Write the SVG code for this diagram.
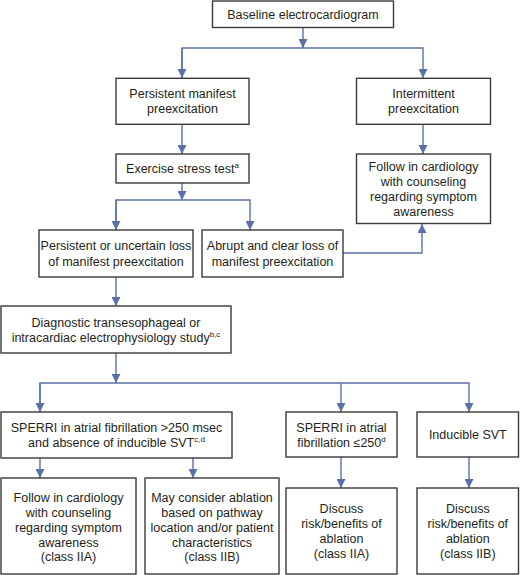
<svg xmlns="http://www.w3.org/2000/svg" width="523" height="575" viewBox="0 0 523 575">
<defs>
<style>
.box{fill:#fff;stroke:#3a3a3a;stroke-width:1.4}
.t{font-family:"Liberation Sans",Arial,sans-serif;font-size:12.5px;fill:#231f20;text-anchor:middle}
.sup{font-size:8px}
.c{fill:none;stroke:#5b70a8;stroke-width:1.4}
</style>
<marker id="ah" markerUnits="userSpaceOnUse" markerWidth="10" markerHeight="9" refX="9" refY="4.5" orient="auto">
<path d="M0,0 L9,4.5 L0,9 z" fill="#5b70a8"/>
</marker>
</defs>
<rect width="523" height="575" fill="#fff"/>
<g id="connectors">
<path class="c" d="M303,27.5 V48" marker-end="url(#ah)"/>
<path class="c" d="M182,78 V48 H423 V78" marker-end="url(#ah)"/>
<path class="c" d="M182,48 V78" marker-end="url(#ah)"/>
<path class="c" d="M182,124.3 V154" marker-end="url(#ah)"/>
<path class="c" d="M423,124.3 V154" marker-end="url(#ah)"/>
<path class="c" d="M182,183 V200" marker-end="url(#ah)"/>
<path class="c" d="M116,230 V200 H250 V230" marker-end="url(#ah)"/>
<path class="c" d="M116,200 V230" marker-end="url(#ah)"/>
<path class="c" d="M343,253 H422 V224" marker-end="url(#ah)"/>
<path class="c" d="M116,277 V306" marker-end="url(#ah)"/>
<path class="c" d="M116,353 V383" marker-end="url(#ah)"/>
<path class="c" d="M40,412 V383 H469 V412" marker-end="url(#ah)"/>
<path class="c" d="M40,383 V412" marker-end="url(#ah)"/>
<path class="c" d="M341,383 V412" marker-end="url(#ah)"/>
<path class="c" d="M40,458 V478" marker-end="url(#ah)"/>
<path class="c" d="M193,458 V478" marker-end="url(#ah)"/>
<path class="c" d="M341,457 V488" marker-end="url(#ah)"/>
<path class="c" d="M469,457 V488" marker-end="url(#ah)"/>
</g>
<g id="n-baseline">
<rect class="box" x="212.5" y="1" width="181" height="26.5"/>
<text class="t" x="303" y="18.5">Baseline electrocardiogram</text>
</g>
<g id="n-persistent">
<rect class="box" x="116" y="78.3" width="133" height="46"/>
<text class="t" x="182.5" y="97.5">Persistent manifest</text>
<text class="t" x="182.5" y="113">preexcitation</text>
</g>
<g id="n-intermittent">
<rect class="box" x="356.5" y="78.3" width="134" height="46"/>
<text class="t" x="423.5" y="97.5">Intermittent</text>
<text class="t" x="423.5" y="113">preexcitation</text>
</g>
<g id="n-exercise">
<rect class="box" x="116" y="154" width="133" height="29"/>
<text class="t" x="182.5" y="172.5">Exercise stress test<tspan class="sup" dy="-5">a</tspan></text>
</g>
<g id="n-follow1">
<rect class="box" x="356.5" y="154" width="134" height="69.5"/>
<text class="t" x="423.5" y="170.5">Follow in cardiology</text>
<text class="t" x="423.5" y="185.5">with counseling</text>
<text class="t" x="423.5" y="200.5">regarding symptom</text>
<text class="t" x="423.5" y="215.5">awareness</text>
</g>
<g id="n-uncertain">
<rect class="box" x="39" y="230" width="154" height="47"/>
<text class="t" x="116" y="250">Persistent or uncertain loss</text>
<text class="t" x="116" y="265.5">of manifest preexcitation</text>
</g>
<g id="n-abrupt">
<rect class="box" x="202" y="230" width="141" height="47"/>
<text class="t" x="272.5" y="250">Abrupt and clear loss of</text>
<text class="t" x="272.5" y="265.5">manifest preexcitation</text>
</g>
<g id="n-eps">
<rect class="box" x="1" y="306" width="230" height="47"/>
<text class="t" x="116" y="326.5">Diagnostic transesophageal or</text>
<text class="t" x="116" y="342">intracardiac electrophysiology study<tspan class="sup" dy="-5">b,c</tspan></text>
</g>
<g id="n-sperri-gt">
<rect class="box" x="1" y="412" width="231" height="46"/>
<text class="t" x="116.5" y="431.5">SPERRI in atrial fibrillation &gt;250 msec</text>
<text class="t" x="116.5" y="446.5">and absence of inducible SVT<tspan class="sup" dy="-5">c,d</tspan></text>
</g>
<g id="n-sperri-le">
<rect class="box" x="286" y="412" width="111" height="45"/>
<text class="t" x="341.5" y="431.5">SPERRI in atrial</text>
<text class="t" x="341.5" y="446.5">fibrillation ≤250<tspan class="sup" dy="-5">d</tspan></text>
</g>
<g id="n-inducible">
<rect class="box" x="417" y="412" width="101.5" height="45"/>
<text class="t" x="467.8" y="439">Inducible SVT</text>
</g>
<g id="n-follow2">
<rect class="box" x="1" y="478" width="135" height="96"/>
<text class="t" x="68.5" y="501.5">Follow in cardiology</text>
<text class="t" x="68.5" y="516.5">with counseling</text>
<text class="t" x="68.5" y="531.5">regarding symptom</text>
<text class="t" x="68.5" y="546.5">awareness</text>
<text class="t" x="68.5" y="561">(class IIA)</text>
</g>
<g id="n-consider">
<rect class="box" x="145" y="478" width="134" height="96"/>
<text class="t" x="212" y="501.5">May consider ablation</text>
<text class="t" x="212" y="516.5">based on pathway</text>
<text class="t" x="212" y="531.5">location and/or patient</text>
<text class="t" x="212" y="546.5">characteristics</text>
<text class="t" x="212" y="561">(class IIB)</text>
</g>
<g id="n-discuss-a">
<rect class="box" x="286" y="488" width="111" height="86"/>
<text class="t" x="341.5" y="512.5">Discuss</text>
<text class="t" x="341.5" y="527.5">risk/benefits of</text>
<text class="t" x="341.5" y="542.5">ablation</text>
<text class="t" x="341.5" y="557.5">(class IIA)</text>
</g>
<g id="n-discuss-b">
<rect class="box" x="417" y="488" width="101.5" height="86"/>
<text class="t" x="467.8" y="512.5">Discuss</text>
<text class="t" x="467.8" y="527.5">risk/benefits of</text>
<text class="t" x="467.8" y="542.5">ablation</text>
<text class="t" x="467.8" y="557.5">(class IIB)</text>
</g>
</svg>
